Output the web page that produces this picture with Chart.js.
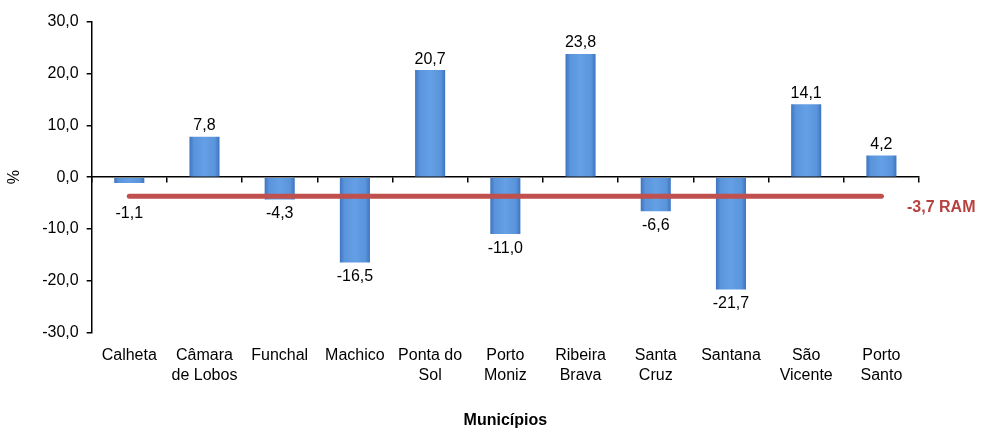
<!DOCTYPE html>
<html>
<head>
<meta charset="utf-8">
<script src="https://cdn.jsdelivr.net/npm/chart.js@4"></script>
<style>
  html, body { margin: 0; padding: 0; background: #fff; }
  #wrap { width: 981px; height: 430px; position: relative; }
</style>
</head>
<body>
<div id="wrap"><canvas id="chart"></canvas></div>
<script>
// ===== Data =====
const municipios = [
    "Calheta", ["Câmara", "de Lobos"], "Funchal", "Machico", ["Ponta do", "Sol"],
    ["Porto", "Moniz"], ["Ribeira", "Brava"], ["Santa", "Cruz"], "Santana",
    ["São", "Vicente"], ["Porto", "Santo"]
];
const variacao = [-1.1, 7.8, -4.3, -16.5, 20.7, -11.0, 23.8, -6.6, -21.7, 14.1, 4.2];
const ramValue = -3.7;
const ramLine = municipios.map(() => ramValue);
const yTicks = [-30, -20, -10, 0, 10, 20, 30];

const FONT = "'Liberation Sans', Arial, sans-serif";
const fmt = v => v.toFixed(1).replace(".", ",");

// gradient for bars (bevel look)
function barFill(ctx) {
    const chart = ctx.chart;
    const xs = chart.scales.x;
    if (!chart.chartArea || !xs || ctx.dataIndex === undefined) return "#558ed5";
    const cx = xs.getPixelForValue(ctx.dataIndex);
    const w = (xs.width / municipios.length) * 0.4;
    if (!isFinite(cx) || !isFinite(w)) return "#558ed5";
    const g = chart.ctx.createLinearGradient(cx - w / 2, 0, cx + w / 2, 0);
    g.addColorStop(0, "#3d74c0");
    g.addColorStop(0.15, "#5a94db");
    g.addColorStop(0.5, "#64a0e6");
    g.addColorStop(0.85, "#5a94db");
    g.addColorStop(1, "#3d74c0");
    return g;
}

// ===== Value labels + RAM label =====
const labelsPlugin = {
    id: "valueLabels",
    afterDatasetsDraw(chart) {
        const ctx = chart.ctx;
        const meta = chart.getDatasetMeta(0);
        const yPix = chart.scales.y.getPixelForValue(ramValue);
        ctx.save();
        ctx.font = "16px " + FONT;
        ctx.fillStyle = "#000";
        ctx.textAlign = "center";
        meta.data.forEach((bar, i) => {
            const v = variacao[i];
            if (v >= 0) {
                ctx.textBaseline = "bottom";
                ctx.fillText(fmt(v), bar.x, bar.y - 3);
            } else {
                // keep labels of short bars clear of the RAM line
                ctx.textBaseline = "top";
                ctx.fillText(fmt(v), bar.x, Math.max(bar.y + 6, yPix + 9));
            }
        });
        // RAM label
        ctx.font = "bold 16px " + FONT;
        ctx.fillStyle = "#b7413e";
        ctx.textAlign = "left";
        ctx.textBaseline = "middle";
        ctx.fillText(fmt(ramValue) + " RAM", chart.chartArea.right - 12, yPix + 11);
        ctx.restore();
    }
};

const ctx = document.getElementById("chart").getContext("2d");
new Chart(ctx, {
    type: "bar",
    data: {
        labels: municipios,
        datasets: [
            {
                type: "bar",
                data: variacao,
                backgroundColor: barFill,
                borderWidth: 0,
                barPercentage: 0.8,
                categoryPercentage: 0.5,
                order: 2
            },
            {
                type: "line",
                data: ramLine,
                borderColor: "#c0504d",
                borderWidth: 5,
                pointRadius: 0,
                borderCapStyle: "round",
                fill: false,
                order: 1
            }
        ]
    },
    options: {
        responsive: true,
        maintainAspectRatio: false,
        animation: false,
        layout: { padding: { left: 5, right: 62, top: 22, bottom: 0 } },
        plugins: { legend: { display: false }, tooltip: { enabled: false } },
        scales: {
            x: {
                grid: { display: false },
                border: { display: false },
                ticks: { color: "#000", font: { family: FONT, size: 16 }, padding: 6, maxRotation: 0, autoSkip: false },
                title: { display: true, text: "Municípios", color: "#000", font: { family: FONT, size: 16, weight: "bold" }, padding: { top: 20, bottom: 0 } }
            },
            x2: {
                axis: "x",
                type: "category",
                position: { y: 0 },
                offset: true,
                grid: { display: true, drawOnChartArea: false, drawTicks: true, tickLength: 5, color: "#000", lineWidth: 1.5, offset: true },
                border: { display: true, color: "#000", width: 1.5 },
                ticks: { display: false }
            },
            y: {
                min: -30,
                max: 30,
                afterBuildTicks: axis => { axis.ticks = yTicks.map(v => ({ value: v })); },
                grid: { drawOnChartArea: false, drawTicks: true, tickLength: 5, color: "#000", lineWidth: 1.5 },
                border: { display: true, color: "#000", width: 1.5 },
                ticks: { color: "#000", font: { family: FONT, size: 16 }, padding: 8, callback: v => fmt(v) },
                title: { display: true, text: "%", color: "#000", font: { family: FONT, size: 16 }, padding: { top: 0, bottom: 10 } }
            }
        }
    },
    plugins: [labelsPlugin]
});
</script>
</body>
</html>
